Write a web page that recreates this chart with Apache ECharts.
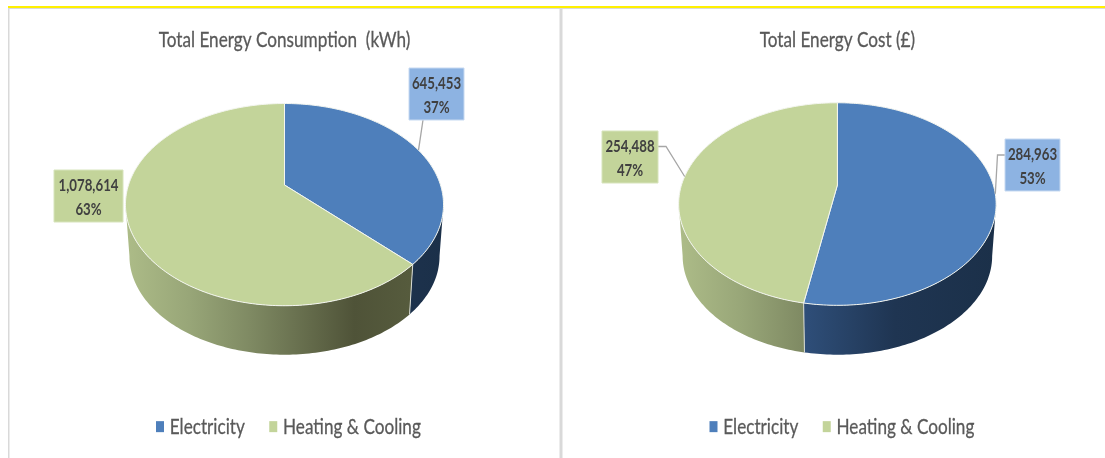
<!DOCTYPE html>
<html>
<head>
<meta charset="utf-8">
<style>html,body{margin:0;padding:0;background:#fff}#c{width:1105px;height:458px}</style>
<script src="https://cdn.jsdelivr.net/npm/echarts@6/dist/echarts.min.js"></script>
</head>
<body>
<div id="c"></div>
<script>
const categories = ['Electricity', 'Heating & Cooling'];
const consumptionValues = [645453, 1078614];
const costValues = [284963, 254488];
const titles = ['Total Energy Consumption  (kWh)', 'Total Energy Cost (£)'];

const FONT = 'Lato,"Open Sans",sans-serif';
const TEXT_SQUEEZE = 0.78;      // the reference's lettering is tall and condensed
const LABEL_SQUEEZE = 0.78;
const topColors = ['#4e7fbb', '#c3d49a'];
const boxColors = ['#8db3e2', '#c3d49a'];
const wallStops = [
  [[0, '#3a5f8e'], [0.39, '#2f4f7a'], [0.68, '#1f3552'], [1, '#1b3049']],
  [[0, '#adbc88'], [0.2, '#98a678'], [0.39, '#7f8a63'], [0.72, '#4f5338'], [1, '#5a6040']]
];
// Perspective of the two pies (projective map of a flat circle).
const pies = [
  { values: consumptionValues, cx: 284.5, y0: 185, y0Low: 237, k: 0.194, A: 97.3, B: 156, rx: 159,
    boxes: [{ x: 409, y: 68, w: 55, h: 52, from: [423, 120] }, { x: 54, y: 170, w: 69, h: 52 }] },
  { values: costValues, cx: 837.4, y0: 185, y0Low: 237.4, k: 0.188, A: 97.7, B: 155.9, rx: 158.7,
    boxes: [{ x: 1005, y: 139, w: 55, h: 52, from: [1005, 155], elbow: [997.5, 155] },
            { x: 602, y: 131, w: 56, h: 52, from: [658, 146.5], elbow: [666, 146.5] }] }
];
const LOW_SCALE = 0.975;

function proj(g, deg, lower) {
  const t = deg * Math.PI / 180, u = Math.sin(t), v = Math.cos(t), w = 1 + g.k * v;
  const s = lower ? LOW_SCALE : 1;
  return [g.cx + s * g.B * u / w, (lower ? g.y0Low : g.y0) - s * g.A * v / w];
}
function arc(g, a, b, lower) {
  const pts = [], n = Math.max(2, Math.ceil(Math.abs(b - a)));
  for (let i = 0; i <= n; i++) pts.push(proj(g, a + (b - a) * i / n, lower));
  return pts;
}
function fmt(v) { return v.toLocaleString('en-US'); }

function makeRender(g, idx) {
  return function (params, api) {
    const value = api.value(0);
    const total = g.values.reduce((s, x) => s + x, 0);
    const before = g.values.slice(0, idx).reduce((s, x) => s + x, 0);
    const a = before / total * 360, b = a + value / total * 360, mid = (a + b) / 2;
    const kids = [];
    const grad = new echarts.graphic.LinearGradient(g.cx - g.rx, 0, g.cx + g.rx, 0,
      wallStops[idx].map(s => ({ offset: s[0], color: s[1] })), true);
    // Only the front of the wall shows: it runs between the two silhouette angles.
    const sil = Math.acos(-g.k) * 180 / Math.PI;
    const fa = Math.max(a, sil), fb = Math.min(b, 360 - sil);
    if (fa < fb) {
      kids.push({ type: 'polygon', z2: 1, shape: { points: arc(g, fa, fb, false).concat(arc(g, fb, fa, true)) },
        style: { fill: grad, stroke: null } });
    }
    if (a > sil && a < 360 - sil) {
      kids.push({ type: 'line', z2: 2, shape: { x1: proj(g, a)[0], y1: proj(g, a)[1], x2: proj(g, a, true)[0], y2: proj(g, a, true)[1] },
        style: { stroke: '#d9dcd4', lineWidth: 1 } });
    }
    kids.push({ type: 'polygon', z2: 3, shape: { points: [[g.cx, g.y0]].concat(arc(g, a, b, false)) },
      style: { fill: topColors[idx], stroke: '#f4f6f0', lineWidth: 1, lineJoin: 'round' } });
    const box = g.boxes[idx];
    if (box.from) {
      const pts = [box.from];
      if (box.elbow) pts.push(box.elbow);
      pts.push(proj(g, mid));
      kids.push({ type: 'polyline', z2: 4, shape: { points: pts }, style: { stroke: '#a6a6a6', lineWidth: 1.3, fill: null } });
    }
    kids.push({ type: 'rect', z2: 5, shape: { x: box.x, y: box.y, width: box.w, height: box.h },
      style: { fill: boxColors[idx], stroke: idx === 0 ? '#c6d9f1' : '#d7e4bc', lineWidth: 1 } });
    kids.push({ type: 'text', z2: 6, x: box.x + box.w / 2, y: box.y + box.h / 2 + 1.5, scaleX: LABEL_SQUEEZE, style: {
      x: 0, y: 0,
      text: fmt(value) + '\n' + Math.round(value / total * 100) + '%',
      align: 'center', verticalAlign: 'middle', lineHeight: 23.5,
      font: 'bold 17px ' + FONT, fill: '#404040' } });
    return { type: 'group', children: kids };
  };
}

const series = [];
pies.forEach(g => categories.forEach((name, i) => series.push({
  type: 'custom', name, coordinateSystem: 'none', silent: true, animation: false,
  itemStyle: { color: topColors[i] }, data: [[g.values[i]]], renderItem: makeRender(g, i)
})));

const legendText = { color: '#595959', fontSize: 22, fontFamily: FONT, padding: [0, 0, 0, 1], textBorderColor: '#595959', textBorderWidth: 0.3 };
const chart = echarts.init(document.getElementById('c'), null, { renderer: 'canvas' });
chart.setOption({
  backgroundColor: '#fff', animation: false,
  title: titles.map((t, i) => ({ text: t, left: pies[i].cx, top: 29, padding: 0, textAlign: 'center',
    textStyle: { color: '#595959', fontSize: 22, fontWeight: 'normal', fontFamily: FONT, textBorderColor: '#595959', textBorderWidth: 0.3 } })),
  legend: [156, 709.5].map(x => ({ left: x, top: 415.5, padding: 0, data: categories, icon: 'rect', itemWidth: 8, itemHeight: 11,
    itemGap: 3, textStyle: legendText, selectedMode: false })),
  graphic: [
    { type: 'rect', silent: true, shape: { x: 8, y: 8, width: 1097, height: 1 }, style: { fill: '#d9d9d9' } },
    { type: 'rect', silent: true, shape: { x: 8, y: 8, width: 1.5, height: 450 }, style: { fill: '#d9d9d9' } },
    { type: 'rect', silent: true, shape: { x: 559.5, y: 8, width: 3, height: 450 }, style: { fill: '#d9d9d9' } },
    { type: 'rect', silent: true, shape: { x: 8, y: 6, width: 1097, height: 2 }, style: { fill: '#fff000' } }
  ],
  series
});

// Squeeze the title and legend lettering horizontally, keeping each anchor in place.
const squeezed = new Set(titles.concat(categories));
chart.getZr().storage.getRoots().forEach(root => {
  if (!root.traverse) return;
  root.traverse(el => {
    if (el.type === 'text' && el.style && squeezed.has(el.style.text)) {
      el.originX = el.style.x || 0;
      el.scaleX = TEXT_SQUEEZE;
      el.markRedraw();
    }
  });
});
</script>
</body>
</html>
